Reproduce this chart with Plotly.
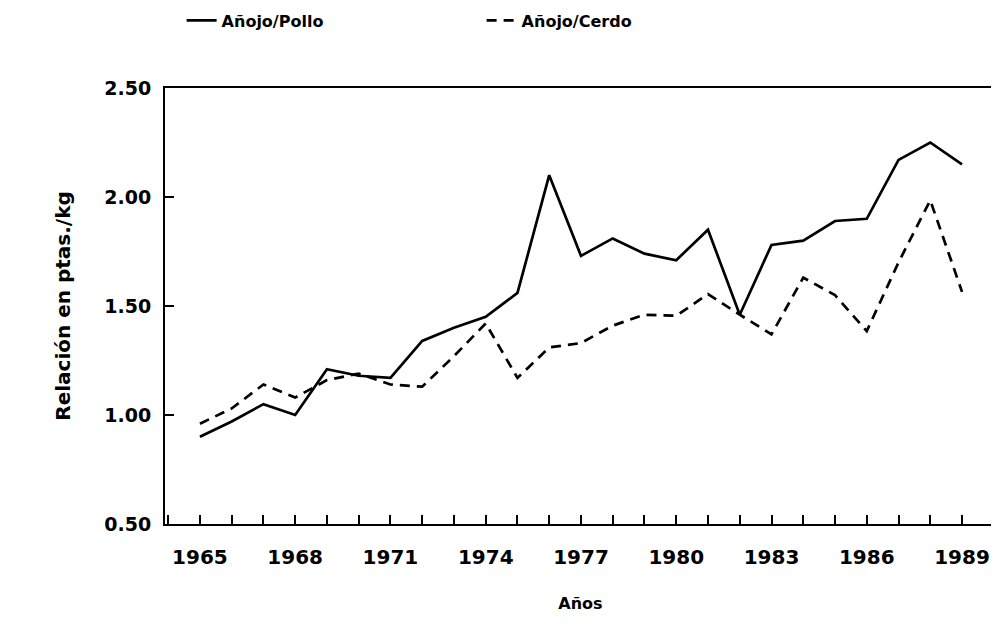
import plotly.graph_objects as go

# Relación de precios (ptas./kg) 1965-1989
anios = list(range(1965, 1990))
anojo_pollo = [0.90, 0.97, 1.05, 1.00, 1.21, 1.18, 1.17, 1.34, 1.40, 1.45, 1.56, 2.10, 1.73,
               1.81, 1.74, 1.71, 1.85, 1.46, 1.78, 1.80, 1.89, 1.90, 2.17, 2.25, 2.15]
anojo_cerdo = [0.96, 1.03, 1.14, 1.08, 1.16, 1.19, 1.14, 1.13, 1.27, 1.42, 1.17, 1.31, 1.33,
               1.41, 1.46, 1.455, 1.555, 1.46, 1.37, 1.63, 1.55, 1.385, 1.70, 1.985, 1.565]
y_ticks = [0.5, 1.0, 1.5, 2.0, 2.5]

fuente = dict(family='DejaVu Sans', color='black', weight='bold')

fig = go.Figure()
fig.add_trace(go.Scatter(x=anios, y=anojo_pollo, mode='lines', name='Añojo/Pollo',
                         line=dict(color='black', width=2.7)))
fig.add_trace(go.Scatter(x=anios, y=anojo_cerdo, mode='lines', name='Añojo/Cerdo',
                         line=dict(color='black', width=2.7, dash='10px,7px')))

# el body de la pagina tiene 8px de margen, por eso 991x623
fig.update_layout(
    width=991, height=623,
    margin=dict(l=157, r=3, t=80, b=107, autoexpand=False),
    plot_bgcolor='white', paper_bgcolor='white',
    font=fuente,
    showlegend=True,
    legend=dict(orientation='h', x=0.02, y=1.155, xanchor='left', yanchor='middle',
                entrywidth=255, font=dict(size=16, **fuente), bgcolor='rgba(0,0,0,0)'),
)

fig.update_xaxes(
    range=[1963.9, 1990.07], tick0=1965, dtick=3,
    ticks='inside', ticklen=9, tickwidth=1.5, tickcolor='black',
    minor=dict(dtick=1, ticks='inside', ticklen=9, tickwidth=1.5, tickcolor='black'),
    showline=True, linecolor='black', linewidth=2, mirror=True,
    showgrid=False, zeroline=False,
    tickfont=dict(size=20, **fuente), ticklabelstandoff=14,
    title=dict(text='Años', font=dict(size=16, **fuente), standoff=30),
)
fig.update_yaxes(
    range=[0.5, 2.5], tickvals=y_ticks, tickformat='.2f',
    ticks='inside', ticklen=9, tickwidth=1.5, tickcolor='black',
    showline=True, linecolor='black', linewidth=2, mirror=True,
    showgrid=False, zeroline=False,
    tickfont=dict(size=19, **fuente), ticklabelstandoff=8,
    title=dict(text='Relación en ptas./kg', font=dict(size=20, **fuente), standoff=28),
)

fig.write_html("out.html")
